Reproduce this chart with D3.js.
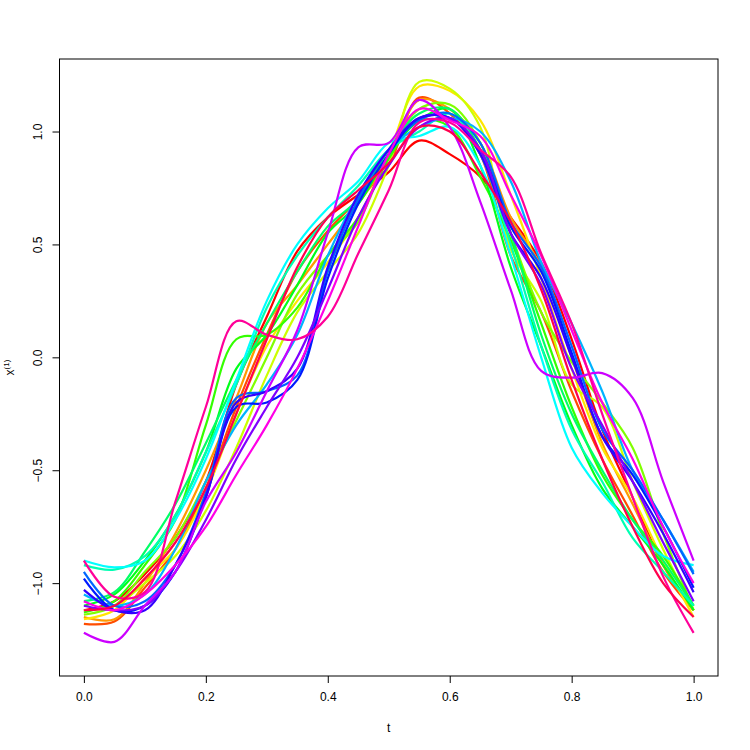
<!DOCTYPE html>
<html>
<head>
<meta charset="utf-8">
<script src="https://cdnjs.cloudflare.com/ajax/libs/d3/7.8.5/d3.min.js"></script>
<style>
  body { margin: 0; background: #fff; }
  text { font-family: "Liberation Sans", Arial, sans-serif; font-size: 12px; fill: #000; }
</style>
</head>
<body>
<div id="chart"></div>
<script>
// grid of t values the curves were read at
var tGrid = [0, 0.05, 0.1, 0.15, 0.2, 0.25, 0.3, 0.35, 0.4, 0.45, 0.5,
             0.55, 0.6, 0.65, 0.7, 0.75, 0.8, 0.85, 0.9, 0.95, 1];

// one array per curve (values at tGrid)
var c0  = [-1.12,-1.08,-0.96,-0.80,-0.55,-0.12,0.18,0.47,0.62,0.72,0.82,0.96,0.90,0.80,0.62,0.42,0.08,-0.32,-0.62,-0.92,-1.12];
var c1  = [-1.18,-1.17,-1.02,-0.85,-0.58,-0.22,0.10,0.38,0.56,0.70,0.85,1.15,1.08,0.90,0.45,0.20,-0.15,-0.45,-0.70,-0.95,-1.12];
var c2  = [-1.15,-1.16,-1.00,-0.78,-0.50,-0.18,0.15,0.32,0.50,0.68,0.88,1.14,1.10,0.95,0.62,0.40,0.00,-0.38,-0.65,-0.92,-1.12];
var c3  = [-1.16,-1.12,-0.98,-0.85,-0.60,-0.25,0.05,0.25,0.42,0.62,0.90,1.20,1.18,1.05,0.72,0.35,-0.05,-0.40,-0.62,-0.90,-1.15];
var c4  = [-1.12,-1.10,-1.00,-0.88,-0.68,-0.40,-0.08,0.20,0.38,0.55,0.85,1.22,1.19,1.02,0.48,0.25,-0.12,-0.22,-0.55,-0.85,-1.12];
var c5  = [-1.14,-1.10,-0.95,-0.80,-0.55,-0.28,0.00,0.28,0.45,0.60,0.90,1.10,1.12,0.95,0.55,0.20,-0.02,-0.20,-0.40,-0.78,-1.12];
var c6  = [-1.13,-1.08,-0.92,-0.72,-0.30,0.08,0.10,0.22,0.45,0.62,0.88,1.05,1.02,0.80,0.52,0.15,-0.22,-0.52,-0.72,-0.88,-1.10];
var c7  = [-1.10,-1.05,-0.90,-0.70,-0.42,-0.05,0.10,0.32,0.55,0.68,0.90,1.05,1.10,0.85,0.40,0.05,-0.30,-0.58,-0.75,-0.92,-1.12];
var c8  = [-1.08,-1.04,-0.86,-0.65,-0.38,-0.10,0.15,0.38,0.58,0.70,0.92,1.08,1.10,0.92,0.55,0.10,-0.25,-0.50,-0.72,-0.90,-1.10];
var c9  = [-0.92,-0.94,-0.88,-0.70,-0.42,-0.12,0.22,0.45,0.62,0.76,0.92,1.00,1.08,0.90,0.50,0.05,-0.32,-0.55,-0.80,-0.95,-1.10];
var c10 = [-0.90,-0.93,-0.90,-0.72,-0.45,-0.10,0.25,0.50,0.66,0.78,0.95,0.98,1.02,0.85,0.45,0.00,-0.40,-0.60,-0.75,-0.88,-0.92];
var c11 = [-1.05,-1.10,-1.05,-0.85,-0.55,-0.30,-0.12,0.10,0.45,0.72,0.92,1.02,1.06,1.00,0.78,0.42,0.15,-0.15,-0.50,-0.72,-0.95];
var c12 = [-0.95,-1.10,-1.08,-0.92,-0.60,-0.18,-0.15,-0.08,0.38,0.70,0.92,1.05,1.08,0.95,0.60,0.40,0.05,-0.32,-0.50,-0.72,-0.96];
var c13 = [-0.98,-1.12,-1.10,-0.95,-0.62,-0.22,-0.20,-0.10,0.35,0.68,0.90,1.06,1.06,0.92,0.58,0.38,0.02,-0.35,-0.52,-0.75,-1.02];
var c14 = [-1.03,-1.12,-1.12,-0.92,-0.62,-0.20,-0.15,-0.05,0.40,0.72,0.92,1.06,1.06,0.90,0.55,0.35,0.00,-0.35,-0.55,-0.78,-1.04];
var c15 = [-1.10,-1.12,-1.10,-0.95,-0.72,-0.45,-0.22,0.00,0.30,0.62,0.85,1.02,1.06,0.92,0.55,0.32,-0.05,-0.30,-0.55,-0.82,-1.08];
var c16 = [-1.22,-1.26,-1.10,-0.95,-0.64,-0.42,-0.15,0.12,0.55,0.93,0.95,1.14,1.02,0.69,0.30,-0.06,-0.09,-0.07,-0.18,-0.55,-0.90];
var c17 = [-1.08,-1.12,-1.05,-0.92,-0.75,-0.52,-0.30,-0.05,0.25,0.58,0.90,1.10,1.05,0.98,0.72,0.45,0.12,-0.20,-0.45,-0.75,-1.00];
var c18 = [-0.90,-1.06,-1.04,-0.64,-0.22,0.16,0.10,0.08,0.18,0.46,0.74,1.04,1.04,0.92,0.80,0.46,0.15,-0.25,-0.62,-0.97,-1.22];
var c19 = [-1.12,-1.10,-0.98,-0.82,-0.58,-0.25,0.08,0.40,0.62,0.74,0.86,1.02,1.00,0.82,0.60,0.30,-0.10,-0.45,-0.75,-1.00,-1.15];

var curves = [c0, c1, c2, c3, c4, c5, c6, c7, c8, c9, c10, c11, c12, c13, c14, c15, c16, c17, c18, c19];

// rainbow(20) palette
var colors = ["#FF0000", "#FF4D00", "#FF9900", "#FFE500", "#CCFF00", "#80FF00", "#33FF00", "#00FF19",
              "#00FF66", "#00FFB2", "#00FFFF", "#00B3FF", "#0066FF", "#001AFF", "#3300FF", "#7F00FF",
              "#CC00FF", "#FF00E6", "#FF0099", "#FF004D"];

var xTicks = [0, 0.2, 0.4, 0.6, 0.8, 1.0];
var yTicks = [-1.0, -0.5, 0.0, 0.5, 1.0];
var xLimits = [0, 1];
var yLimits = [-1.31, 1.22];

var width = 750, height = 750;
var plot = { left: 59.5, right: 718, top: 59, bottom: 676 };

var svg = d3.select("#chart")
  .append("svg")
  .attr("width", width)
  .attr("height", height);

// R pads the range by 4% each side
function pad(lim) {
  var d = (lim[1] - lim[0]) * 0.04;
  return [lim[0] - d, lim[1] + d];
}

var x = d3.scaleLinear().domain(pad(xLimits)).range([plot.left, plot.right]);
var y = d3.scaleLinear().domain(pad(yLimits)).range([plot.bottom, plot.top]);

var line = d3.line()
  .x(function(d) { return x(d[0]); })
  .y(function(d) { return y(d[1]); })
  .curve(d3.curveCatmullRom.alpha(0.5));

svg.append("g")
  .selectAll("path")
  .data(curves)
  .enter().append("path")
  .attr("d", function(c) {
    return line(c.map(function(v, i) { return [tGrid[i], v]; }));
  })
  .attr("fill", "none")
  .attr("stroke", function(c, i) { return colors[i]; })
  .attr("stroke-width", 2.2)
  .attr("stroke-linejoin", "round");

// axes
var xAxis = d3.axisBottom(x).tickValues(xTicks).tickFormat(d3.format(".1f")).tickSize(7).tickPadding(9);
var gx = svg.append("g")
  .attr("transform", "translate(0," + plot.bottom + ")")
  .call(xAxis);
gx.select(".domain").remove();
gx.selectAll("line").attr("stroke", "#000");
gx.selectAll("text").style("font-size", "12px").attr("font-family", null);

var yAxis = d3.axisLeft(y).tickValues(yTicks).tickFormat(d3.format(".1f")).tickSize(7);
var gy = svg.append("g")
  .attr("transform", "translate(" + plot.left + ",0)")
  .call(yAxis);
gy.select(".domain").remove();
gy.selectAll("line").attr("stroke", "#000");
// tick groups are already moved to y(d), so only shift left and rotate
gy.selectAll("text")
  .attr("x", null).attr("y", null).attr("dy", null)
  .attr("text-anchor", "middle")
  .attr("transform", "translate(-18,0) rotate(-90)")
  .style("font-size", "12px").attr("font-family", null);

// box
svg.append("rect")
  .attr("x", plot.left).attr("y", plot.top)
  .attr("width", plot.right - plot.left)
  .attr("height", plot.bottom - plot.top)
  .attr("fill", "none")
  .attr("stroke", "#000")
  .attr("stroke-width", 1);

// axis titles
svg.append("text")
  .attr("x", (plot.left + plot.right) / 2)
  .attr("y", 732)
  .attr("text-anchor", "middle")
  .text("t");

var ylab = svg.append("text")
  .attr("transform", "translate(14," + (plot.top + plot.bottom) / 2 + ") rotate(-90)")
  .attr("text-anchor", "middle");
ylab.append("tspan").text("x");
ylab.append("tspan").attr("dy", -5).style("font-size", "8px").text("(1)");
</script>
</body>
</html>
